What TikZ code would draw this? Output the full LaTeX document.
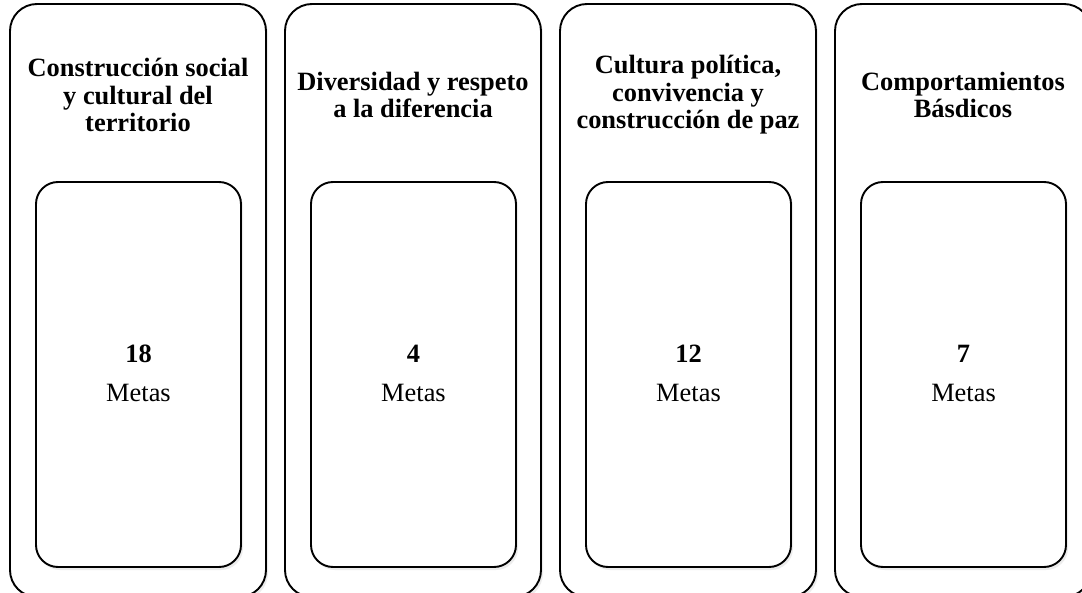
\documentclass[tikz,border=0pt]{standalone}
\usepackage{fontspec}
\setmainfont{Liberation Serif}
\usetikzlibrary{shadows}

\tikzset{
	eje/.style={draw, line width=1.9pt, rounded corners=27pt, fill=white,
		minimum width=256pt, minimum height=593pt,
		drop shadow={opacity=0.15, shadow xshift=2pt, shadow yshift=-3pt}},
	caja/.style={draw, line width=1.9pt, rounded corners=22pt, fill=white,
		minimum width=205pt, minimum height=385pt,
		drop shadow={opacity=0.15, shadow xshift=2pt, shadow yshift=-3pt}},
	titulo/.style={font=\fontsize{26.4}{27.5}\selectfont\bfseries, align=center},
	cifra/.style={font=\fontsize{26.4}{30}\selectfont\bfseries, anchor=base},
	rotulo/.style={font=\fontsize{26.4}{30}\selectfont, anchor=base}
}

\begin{document}
\begin{tikzpicture}[x=1pt,y=-1pt]
\useasboundingbox (0,0) rectangle (1082,593);
\fill[white] (0,0) rectangle (1082,593);
\foreach \i/\txt/\n in {
	0/{Construcción social\\y cultural del\\territorio}/18,
	1/{Diversidad y respeto\\a la diferencia}/4,
	2/{Cultura política,\\convivencia y\\construcción de paz}/12,
	3/{Comportamientos\\Básdicos}/7} {
	\node[eje] (eje\i) at (138+275*\i,300.5) {};
	\node[titulo] (tit\i) at (138+275*\i,95) {\txt};
	\node[caja] (caja\i) at (138.5+275*\i,374.5) {};
	\node[cifra] (num\i) at (138.5+275*\i,363) {\n};
	\node[rotulo] (met\i) at (138.5+275*\i,402) {Metas};
}
\end{tikzpicture}
\end{document}
